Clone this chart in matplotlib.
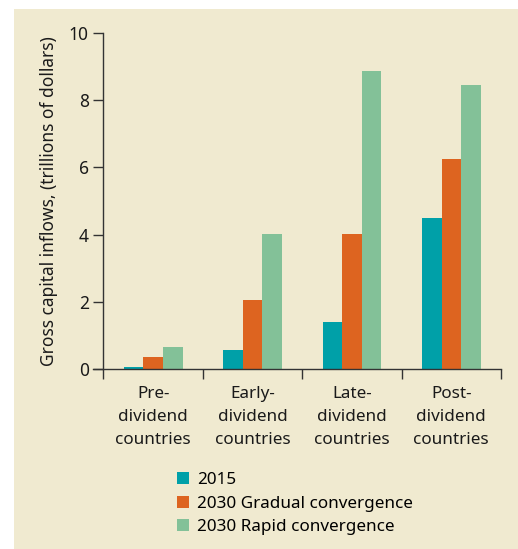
import numpy as np
import matplotlib.pyplot as plt
from matplotlib.patches import Rectangle

plt.rcParams['font.family'] = ['Noto Sans', 'DejaVu Sans']

categories = ['Pre-\ndividend\ncountries', 'Early-\ndividend\ncountries',
              'Late-\ndividend\ncountries', 'Post-\ndividend\ncountries']
series_names = ['2015', '2030 Gradual convergence', '2030 Rapid convergence']
v2015 = [0.05, 0.57, 1.4, 4.49]
v2030_gradual = [0.36, 2.05, 4.02, 6.25]
v2030_rapid = [0.65, 4.02, 8.87, 8.45]
colors = ['#00A0A8', '#DD6420', '#83C198']
bg = '#F0EAD0'

fig = plt.figure(figsize=(5.18, 5.49), dpi=100)
fig.patch.set_facecolor('white')
# beige panel behind the chart
fig.patches.append(Rectangle((14 / 518, 0), 1 - 14 / 518, 1 - 9 / 549,
                             transform=fig.transFigure, facecolor=bg,
                             edgecolor='none', zorder=-1))

ax = fig.add_axes([93 / 518, 180 / 549, (501 - 93) / 518, (336) / 549])
ax.set_facecolor('none')

x = np.arange(len(categories))
w = 0.197
for i, vals in enumerate([v2015, v2030_gradual, v2030_rapid]):
    ax.bar(x + (i - 1) * w, vals, width=w, color=colors[i], label=series_names[i])

ax.set_xlim(-0.605, 3.5)
ax.set_ylim(0, 10)
ax.spines['top'].set_visible(False)
ax.spines['right'].set_visible(False)
ax.spines['left'].set_position(('data', -0.5))
for s in ['left', 'bottom']:
    ax.spines[s].set_color('#333333')
    ax.spines[s].set_linewidth(1.0)

ax.set_yticks([0, 2, 4, 6, 8, 10])
ax.set_xticks([-0.5, 0.5, 1.5, 2.5, 3.5])
ax.set_xticklabels([])
ax.tick_params(axis='both', direction='out', length=7.5, width=1.0,
               color='#333333', labelsize=12.5, labelcolor='#1a1a1a')
ax.tick_params(axis='y', pad=3)

for xi, lab in zip(x, categories):
    ax.text(xi, -0.5, lab, ha='center', va='top', fontsize=12.3,
            color='#1a1a1a', linespacing=1.6)

ax.set_ylabel('Gross capital inflows, (trillions of dollars)', fontsize=12.5,
              color='#1a1a1a', labelpad=8)

fig.legend(loc='upper left', bbox_to_anchor=(170 / 518, 1 - 465 / 549),
           frameon=False, fontsize=12.3, handlelength=0.7, handleheight=0.7,
           handletextpad=0.5, labelspacing=0.45, borderaxespad=0)

fig.savefig('out.png', dpi=100, facecolor=fig.get_facecolor())
